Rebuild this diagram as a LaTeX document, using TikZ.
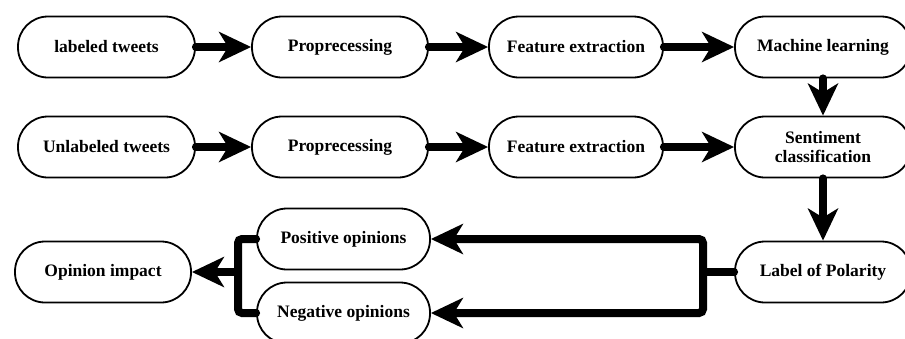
\documentclass[tikz,border=0pt]{standalone}
\usepackage{fontspec}
\setmainfont{Liberation Serif}
\usetikzlibrary{arrows.meta}
\begin{document}
\begin{tikzpicture}[x=1pt,y=-1pt,
  box/.style={draw=black, line width=1.8pt, rounded corners=30pt, minimum height=61pt,
    minimum width=#1, inner sep=0pt, align=center,
    font=\fontsize{17.5}{21}\selectfont\bfseries},
  box/.default=176pt,
  link/.style={line width=8pt, line cap=round, -{Stealth[length=32pt,width=30pt,inset=9pt]}},
  plain/.style={line width=8pt, line cap=round}
]
\useasboundingbox (0,0) rectangle (905,338);
% row 1
\node[box=177pt] (lt) at (106.5,47) {labeled tweets};
\node[box] (p1) at (340,47) {Proprecessing};
\node[box=174pt] (f1) at (576,47) {Feature extraction};
\node[box] (ml) at (823,47) {Machine learning};
% row 2
\node[box=177pt] (ut) at (106.5,147) {Unlabeled tweets};
\node[box] (p2) at (340,147) {Proprecessing};
\node[box=174pt] (f2) at (576,147) {Feature extraction};
\node[box] (sc) at (823,147) {Sentiment\\[-2pt]classification};
% row 3
\node[box] (lp) at (823,272) {Label of Polarity};
\node[box=173pt] (po) at (343.5,239) {Positive opinions};
\node[box=173pt] (no) at (343.5,313) {Negative opinions};
\node[box] (oi) at (103,272) {Opinion impact};
\coordinate (rb) at (703,272);
\coordinate (lb) at (238,272);
% arrows row 1
\draw[link] (lt.east) -- (p1.west);
\draw[link] (p1.east) -- (f1.west);
\draw[link] (f1.east) -- (ml.west);
% arrows row 2
\draw[link] (ut.east) -- (p2.west);
\draw[link] (p2.east) -- (f2.west);
\draw[link] (f2.east) -- (sc.west);
% vertical
\draw[link] (ml.south) -- (sc.north);
\draw[link] (sc.south) -- (lp.north);
% right bracket
\draw[plain] (lp.west) -- (rb);
\draw[link, rounded corners=4pt] (rb) |- (po.east);
\draw[link, rounded corners=4pt] (rb) |- (no.east);
% left bracket
\draw[plain, line cap=butt, rounded corners=4pt] (po.west) -- (lb |- po.west) -- (lb |- no.west) -- (no.west);
\fill (po.west) circle (4pt);
\fill (no.west) circle (4pt);
\draw[link, line cap=butt] (lb) -- (oi.east);
\end{tikzpicture}
\end{document}
